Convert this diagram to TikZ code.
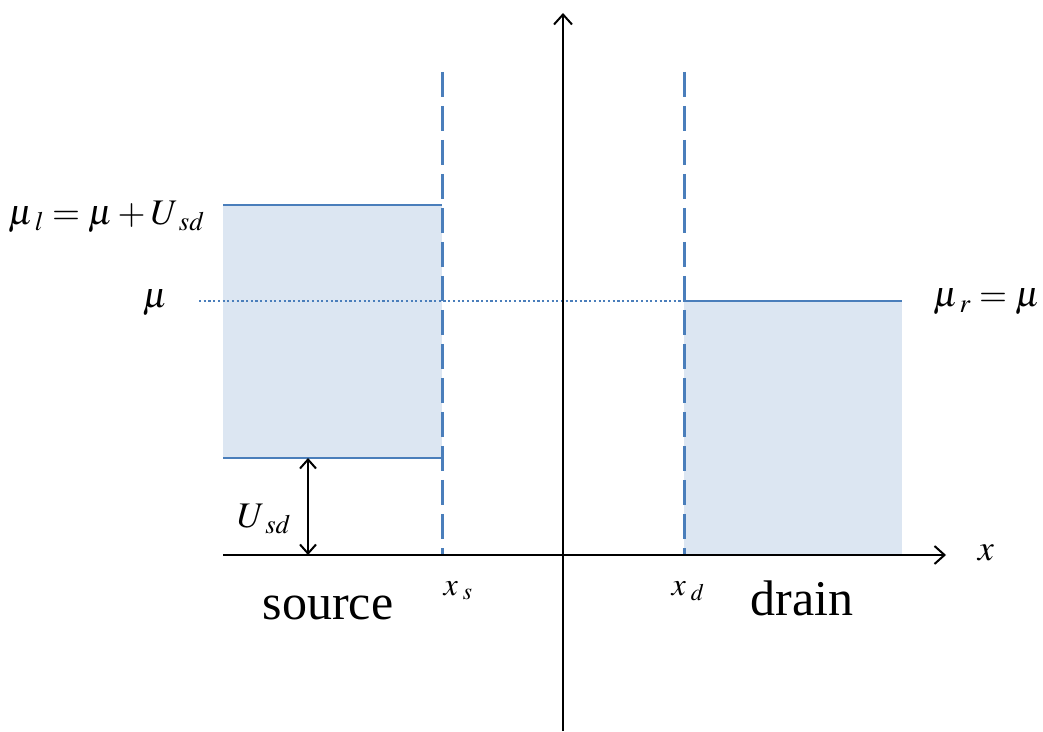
\documentclass[tikz,border=0pt]{standalone}
\usepackage{mathptmx}
\usepackage{fontspec}
\setmainfont{Liberation Serif}
\usetikzlibrary{arrows.meta}
\definecolor{bandfill}{HTML}{DCE6F2}
\definecolor{bandline}{HTML}{4A7EBB}
\newcommand{\subgap}{\hskip5pt}
\begin{document}
\begin{tikzpicture}[x=1pt,y=1pt,
  axis/.style={black,line width=2.2pt,-{Straight Barb[length=10pt,width=18pt,line width=2pt]}},
  dimarrow/.style={black,line width=2pt,{Straight Barb[length=9pt,width=16pt,line width=2pt]}-{Straight Barb[length=9pt,width=16pt,line width=2pt]}},
  levelline/.style={bandline,line width=1.8pt},
  barrier/.style={bandline,line width=3pt,dash pattern=on 25pt off 9pt},
  dotline/.style={bandline,line width=2.4pt,dash pattern=on 2.2pt off 2.5pt},
  mathlbl/.style={inner sep=0pt,font=\fontsize{36}{42}\selectfont},
  sublbl/.style={inner sep=0pt,font=\fontsize{32}{36}\selectfont},
  wordlbl/.style={inner sep=0pt,font=\fontsize{50}{56}\selectfont}]
\useasboundingbox (0,0) rectangle (1043,731);
% coordinates
\coordinate (Sbl) at (223,273);
\coordinate (Str) at (442,526);
\coordinate (Dbl) at (684,176);
\coordinate (Dtr) at (902,430);
% fills
\fill[bandfill] (Sbl) rectangle (Str);
\fill[bandfill] (Dbl) rectangle (Dtr);
% level lines
\coordinate (Stl) at (223,526);
\coordinate (Sbr) at (442,273);
\coordinate (Dtl) at (684,430);
\draw[levelline] (Stl) -- (Str);
\draw[levelline] (Sbl) -- (Sbr);
\draw[levelline] (Dtl) -- (Dtr);
% dotted mu line
\coordinate (dotL) at (199,430);
\draw[dotline] (dotL) -- (Dtl);
% barriers
\coordinate (xsB) at (442,176);
\coordinate (xsT) at (442,659);
\coordinate (xdB) at (684,176);
\coordinate (xdT) at (684,659);
\draw[barrier] (xsT) -- (xsB);
\draw[barrier] (xdT) -- (xdB);
% axes
\coordinate (hL) at (223,176);
\coordinate (hR) at (946,176);
\coordinate (vB) at (563,0);
\coordinate (vT) at (563,718);
\draw[axis] (hL) -- (hR);
\draw[axis] (vB) -- (vT);
% U_sd arrow
\coordinate (uT) at (308,273);
\coordinate (uB) at (308,176);
\draw[dimarrow] (uB) -- (uT);
% labels
\node[mathlbl,anchor=west] (mul) at (8,514) {$\mu_{\subgap l} = \mu + U_{\subgap sd}$};
\node[mathlbl] (mu) at (155,428) {$\mu$};
\node[mathlbl,anchor=east] (mur) at (1040,429) {$\mu_{\subgap r} = \mu$};
\node[mathlbl] (usd) at (264,212) {$U_{\subgap sd}$};
\node[mathlbl] (xl) at (986,178) {$x$};
\node[sublbl,anchor=base] (xs) at (458,136) {$x_{\subgap s}$};
\node[sublbl,anchor=base] (xd) at (688,136) {$x_{\subgap d}$};
\node[wordlbl,anchor=base] (src) at (328,112) {source};
\node[wordlbl,anchor=base] (drn) at (802,116) {drain};
\end{tikzpicture}
\end{document}
